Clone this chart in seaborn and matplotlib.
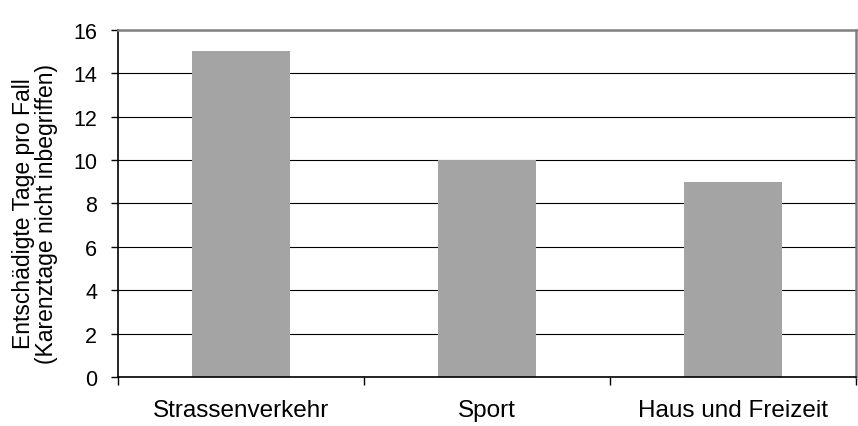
import matplotlib
matplotlib.use("Agg")
import matplotlib.pyplot as plt
import pandas as pd
import seaborn as sns
from matplotlib.ticker import FixedLocator

categories = ["Strassenverkehr", "Sport", "Haus und Freizeit"]
days = [15, 10, 9]
y_ticks = [0, 2, 4, 6, 8, 10, 12, 14, 16]
y_label = "Entschädigte Tage pro Fall\n(Karenztage nicht inbegriffen)"

df = pd.DataFrame({"cat": categories, "days": days})

sns.set_style("white")
plt.rcParams['font.family'] = ['Liberation Sans', 'DejaVu Sans']
plt.rcParams['text.color'] = 'black'
plt.rcParams['xtick.labelcolor'] = 'black'
plt.rcParams['ytick.labelcolor'] = 'black'

fig = plt.figure(figsize=(8.58, 4.27), dpi=100)
ax = fig.add_axes([0.1375, 0.1148, 0.8602, 0.8133])

sns.barplot(data=df, x="cat", y="days", color="#a4a4a4", width=0.4,
            saturation=1, ax=ax, edgecolor="none")

ax.set_xlim(-0.5, len(categories) - 0.5)
ax.set_ylim(0, 16)
ax.set_yticks(y_ticks)
ax.set_xlabel("")
ax.set_ylabel("")

ax.set_axisbelow(True)
ax.yaxis.grid(True, color="black", linewidth=0.8)
ax.xaxis.grid(False)

# category boundary ticks
ax.xaxis.set_minor_locator(FixedLocator([i - 0.5 for i in range(len(categories) + 1)]))
ax.tick_params(axis="x", which="minor", direction="out", length=6, width=1.0,
               color="black", bottom=True)
ax.tick_params(axis="x", which="major", length=0, pad=15.5, labelsize=17.5,
               labelcolor="black")
ax.tick_params(axis="y", which="major", direction="out", length=5, width=1.0,
               color="black", pad=10, labelsize=15.5, left=True, labelcolor="black")

for side in ["left", "bottom"]:
    ax.spines[side].set_color("black")
    ax.spines[side].set_linewidth(1.2)
for side in ["top", "right"]:
    ax.spines[side].set_visible(True)
    ax.spines[side].set_color("#808080")
    ax.spines[side].set_linewidth(1.8)

fig.text(35 / 858, 1 - 214 / 427, y_label, rotation=90, ha="center", va="center",
         fontsize=16.5, linespacing=1.0, color="black")

fig.savefig("out.png", dpi=100)
